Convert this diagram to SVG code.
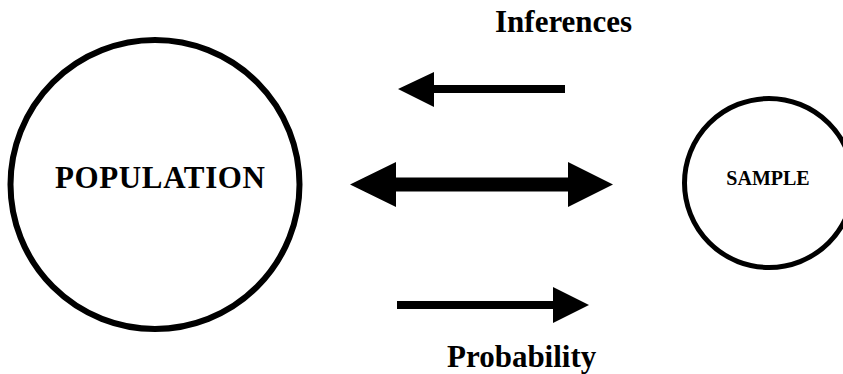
<svg xmlns="http://www.w3.org/2000/svg" width="843" height="374" viewBox="0 0 843 374">
<style>
.node{fill:none;stroke:#000}
.t{font-family:"Liberation Serif","Times New Roman",serif;font-weight:bold;fill:#000}
.arr{fill:#000;stroke:none}
</style>
<rect width="843" height="374" fill="#fff"/>
<g id="population">
<circle class="node" cx="155" cy="184.5" r="144.5" stroke-width="6"/>
<text class="t" x="160" y="188" font-size="31" text-anchor="middle" textLength="210">POPULATION</text>
</g>
<g id="sample">
<circle class="node" cx="769" cy="183" r="84.5" stroke-width="5"/>
<text class="t" x="768" y="185" font-size="20" text-anchor="middle">SAMPLE</text>
</g>
<g id="labels">
<text class="t" x="495" y="32" font-size="31">Inferences</text>
<text class="t" x="447" y="367" font-size="31">Probability</text>
</g>
<g id="connectors">
<polygon class="arr" points="398,89 434,72 434,85 565,85 565,93 434,93 434,107"/>
<polygon class="arr" points="350,184.5 396,162 396,177.5 568,177.5 568,162 613,184.5 568,207 568,191.5 396,191.5 396,207"/>
<polygon class="arr" points="397,301 553,301 553,287 589,305 553,323 553,309 397,309"/>
</g>
</svg>
